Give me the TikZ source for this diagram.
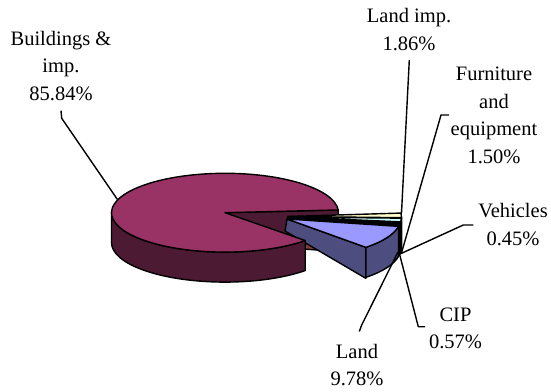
\documentclass[tikz,border=0pt]{standalone}
\usepackage{fontspec}
\setmainfont{Liberation Serif}
\usepackage{tikz}
\definecolor{plum}{HTML}{993366}
\definecolor{plumdark}{HTML}{4D1A33}
\definecolor{peri}{HTML}{9999FF}
\definecolor{peridark}{HTML}{4D4D80}
\definecolor{ivory}{HTML}{FFFFCC}
\definecolor{ivorydark}{HTML}{808066}
\definecolor{turq}{HTML}{CCFFFF}
\definecolor{turqdark}{HTML}{668080}
\definecolor{vehcol}{HTML}{660066}
\definecolor{vehdark}{HTML}{330033}
\definecolor{cipcol}{HTML}{FF8080}
\definecolor{cipdark}{HTML}{804040}

\begin{document}
\begin{tikzpicture}[x=1pt,y=1pt,line width=1.4pt,line join=round,
  lbl/.style={font=\fontsize{20.5}{27.5}\selectfont,align=center,anchor=north,inner sep=0pt},
  rim/.style={x radius=113.5,y radius=39.4}]
 \useasboundingbox (0,0) rectangle (551,391);
 \coordinate (C) at (225,178.3);
 % cut face of the big slice, seen through the gap
 \draw [fill=plumdark] (C) -- ++(4:113.5 and 39.4) -- ++(0,-30) -- ([yshift=-30pt]C) -- cycle;
 % Land imp.
 \coordinate (Ci) at (288,174.5);
 \draw [fill=ivorydark] (Ci) -- ++(-1.7:113.5 and 39.4) -- ++(0,-30) -- ([yshift=-30pt]Ci) -- cycle;
 \draw [fill=ivorydark] (Ci) ++(-1.7:113.5 and 39.4) arc[start angle=-1.7,end angle=5,rim] -- ++(0,-30) arc[start angle=5,end angle=-1.7,rim] -- cycle;
 \draw [fill=ivory] (Ci) -- ++(-1.7:113.5 and 39.4) arc[start angle=-1.7,end angle=5,rim] -- cycle;
 % Furniture
 \coordinate (Cf) at (288,174);
 \draw [fill=turqdark] (Cf) -- ++(-7.1:113.5 and 39.4) -- ++(0,-30) -- ([yshift=-30pt]Cf) -- cycle;
 \draw [fill=turqdark] (Cf) ++(-7.1:113.5 and 39.4) arc[start angle=-7.1,end angle=-1.7,rim] -- ++(0,-30) arc[start angle=-1.7,end angle=-7.1,rim] -- cycle;
 \draw [fill=turq] (Cf) -- ++(-7.1:113.5 and 39.4) arc[start angle=-7.1,end angle=-1.7,rim] -- cycle;
 % Vehicles
 \coordinate (Cv) at (288,173.5);
 \draw [fill=vehdark] (Cv) -- ++(-8.7:113.5 and 39.4) -- ++(0,-30) -- ([yshift=-30pt]Cv) -- cycle;
 \draw [fill=vehdark] (Cv) ++(-8.7:113.5 and 39.4) arc[start angle=-8.7,end angle=-7.1,rim] -- ++(0,-30) arc[start angle=-7.1,end angle=-8.7,rim] -- cycle;
 \draw [fill=vehcol] (Cv) -- ++(-8.7:113.5 and 39.4) arc[start angle=-8.7,end angle=-7.1,rim] -- cycle;
 % CIP
 \coordinate (Cc) at (287.5,173);
 \draw [fill=cipdark] (Cc) -- ++(-10.8:113.5 and 39.4) -- ++(0,-30) -- ([yshift=-30pt]Cc) -- cycle;
 \draw [fill=cipdark] (Cc) ++(-10.8:113.5 and 39.4) arc[start angle=-10.8,end angle=-8.7,rim] -- ++(0,-30) arc[start angle=-8.7,end angle=-10.8,rim] -- cycle;
 \draw [fill=cipcol] (Cc) -- ++(-10.8:113.5 and 39.4) arc[start angle=-10.8,end angle=-8.7,rim] -- cycle;
 % Land
 \coordinate (Cl) at (287,172);
 \coordinate (Lfoot) at (285,160);
 \draw [fill=peridark] (Cl) -- ++(-46:113.5 and 39.4) -- ++(0,-31) -- (Lfoot) -- cycle;
 \draw [fill=peridark] (Cl) ++(-46:113.5 and 39.4) arc[start angle=-46,end angle=-10.8,rim] -- ++(0,-30) arc[start angle=-10.8,end angle=-46,rim] -- cycle;
 \draw [fill=peri] (Cl) -- ++(-46:113.5 and 39.4) arc[start angle=-46,end angle=-10.8,rim] -- cycle;
 % Buildings & imp.
 \draw [fill=plumdark] (C) ++(180:113.5 and 39.4) arc[start angle=180,end angle=315,rim] -- ++(0,-30) arc[start angle=315,end angle=180,rim] -- cycle;
 \draw [fill=plum] (C) -- ++(4:113.5 and 39.4) arc[start angle=4,end angle=315,rim] -- cycle;

 % labels
 \node [lbl] (bldlbl) at (61,360.5) {Buildings \&\\imp.\\85.84\%};
 \node [lbl] (landimplbl) at (409,383.3) {Land imp.\\1.86\%};
 \node [lbl] (furnlbl) at (494,324.3) {Furniture\\and\\equipment\\1.50\%};
 \node [lbl] (vehlbl) at (513,188.3) {Vehicles\\0.45\%};
 \node [lbl] (ciplbl) at (455.5,84) {CIP\\0.57\%};
 \node [lbl] (landlbl) at (357,47.5) {Land\\9.78\%};

 % leader lines
 \coordinate (bldA) at (61,280.3);
 \coordinate (bldB) at (61.7,272.7);
 \coordinate (bldC) at (117.3,191.7);
 \coordinate (impA) at (409.3,331);
 \coordinate (impB) at (401.5,178);
 \coordinate (furA) at (449,276);
 \coordinate (furB) at (441,276);
 \coordinate (furC) at (401.5,138);
 \coordinate (vehA) at (473.3,166);
 \coordinate (vehB) at (463.3,166);
 \coordinate (vehC) at (400,137);
 \coordinate (cipA) at (425,64.3);
 \coordinate (cipB) at (418.3,64.3);
 \coordinate (cipC) at (399.5,137);
 \coordinate (lndA) at (359.3,59.5);
 \coordinate (lndB) at (361.7,66);
 \coordinate (lndC) at (398,139);
 \draw (bldA) -- (bldB) -- (bldC);
 \draw (impA) -- (impB);
 \draw (furA) -- (furB) -- (furC);
 \draw (vehA) -- (vehB) -- (vehC);
 \draw (cipA) -- (cipB) -- (cipC);
 \draw (lndA) -- (lndB) -- (lndC);
\end{tikzpicture}
\end{document}
